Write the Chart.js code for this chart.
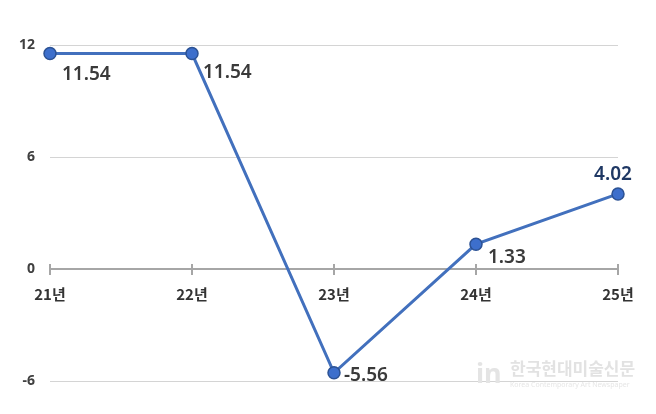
<!DOCTYPE html>
<html>
<head>
<meta charset="utf-8">
<script src="https://cdn.jsdelivr.net/npm/chart.js@4"></script>
<style>
  html, body { margin: 0; padding: 0; background: #fff; }
  #wrap { position: relative; width: 656px; height: 414px; }
  .wm { position: absolute; left: 476px; top: 360px; font-family: "Noto Sans CJK KR", sans-serif; color: #e2e2e2; pointer-events: none; }
  .wm .logo { position: absolute; left: 0; top: -6px; font: bold 27px "Noto Sans", sans-serif; color: #e4e4e4; }
  .wm .ko { position: absolute; left: 34px; top: -3px; font-size: 17px; font-weight: 700; white-space: nowrap; line-height: 22px; }
  .wm .en { position: absolute; left: 34px; top: 20px; font: 7px "Noto Sans", sans-serif; color: #e6e6e6; white-space: nowrap; }
</style>
</head>
<body>
<div id="wrap">
  <canvas id="chart" width="656" height="414"></canvas>
  <div class="wm"><span class="logo">in</span><span class="ko">한국현대미술신문</span><span class="en">Korea Contemporary Art Newspaper</span></div>
</div>
<script>
const categories = ['21년', '22년', '23년', '24년', '25년'];
const values = [11.54, 11.54, -5.56, 1.33, 4.02];
const valueLabels = ['11.54', '11.54', '-5.56', '1.33', '4.02'];
const yTicks = [12, 6, 0, -6];

// label placement relative to each point (dx, dy, align)
const labelPos = [
  { dx: 12, dy: 21, align: 'left', color: '#3a3a3a' },
  { dx: 11, dy: 19, align: 'left', color: '#3a3a3a' },
  { dx: 10, dy: 3, align: 'left', color: '#3a3a3a' },
  { dx: 12, dy: 13, align: 'left', color: '#3a3a3a' },
  { dx: -5, dy: -19, align: 'center', color: '#1f3864' },
];

const valueLabelPlugin = {
  id: 'valueLabels',
  afterDatasetsDraw(chart) {
    const ctx = chart.ctx;
    const meta = chart.getDatasetMeta(0);
    ctx.save();
    ctx.font = '600 19px "Noto Sans", sans-serif';
    ctx.textBaseline = 'middle';
    meta.data.forEach((pt, i) => {
      const p = labelPos[i];
      ctx.fillStyle = p.color;
      ctx.textAlign = p.align;
      ctx.fillText(valueLabels[i], pt.x + p.dx, pt.y + p.dy);
    });
    ctx.restore();
  }
};

// little tick marks crossing the zero line
const zeroTicksPlugin = {
  id: 'zeroTicks',
  beforeDatasetsDraw(chart) {
    const ctx = chart.ctx;
    const x = chart.scales.x, y = chart.scales.y;
    const y0 = Math.round(y.getPixelForValue(0));
    ctx.save();
    ctx.strokeStyle = '#a6a6a6';
    ctx.lineWidth = 2;
    categories.forEach((c, i) => {
      const px = Math.round(x.getPixelForTick(i));
      ctx.beginPath();
      ctx.moveTo(px, y0 - 5);
      ctx.lineTo(px, y0 + 6);
      ctx.stroke();
    });
    ctx.restore();
  }
};

new Chart(document.getElementById('chart').getContext('2d'), {
  type: 'line',
  data: {
    labels: categories,
    datasets: [{
      data: values,
      borderColor: '#4270bd',
      borderWidth: 3,
      pointRadius: 6,
      pointHoverRadius: 6,
      pointBackgroundColor: '#3d6fcc',
      pointBorderColor: '#2c5294',
      pointBorderWidth: 1.5,
      tension: 0,
    }],
  },
  options: {
    responsive: false,
    animation: false,
    layout: { padding: { top: 45, right: 38, bottom: 33, left: 0 } },
    plugins: { legend: { display: false }, tooltip: { enabled: false } },
    scales: {
      x: {
        position: { y: 0 },
        afterFit: (s) => { s.height = 0; },
        grid: { display: false, drawTicks: false },
        border: { display: false },
        ticks: { padding: 16, color: '#333', font: { family: '"Noto Sans CJK KR", sans-serif', size: 15, weight: 'bold' } },
      },
      y: {
        min: -6, max: 12,
        afterFit: (s) => { s.width = 50; },
        afterBuildTicks: (s) => { s.ticks = yTicks.map(v => ({ value: v })); },
        grid: {
          drawTicks: false,
          color: (c) => c.tick && c.tick.value === 0 ? '#a6a6a6' : '#d4d4d4',
          lineWidth: (c) => c.tick && c.tick.value === 0 ? 2 : 1,
        },
        border: { display: false },
        ticks: { padding: 15, color: '#404040', font: { family: '"Noto Sans", sans-serif', size: 14, weight: 'bold' } },
      },
    },
  },
  plugins: [zeroTicksPlugin, valueLabelPlugin],
});
</script>
</body>
</html>
